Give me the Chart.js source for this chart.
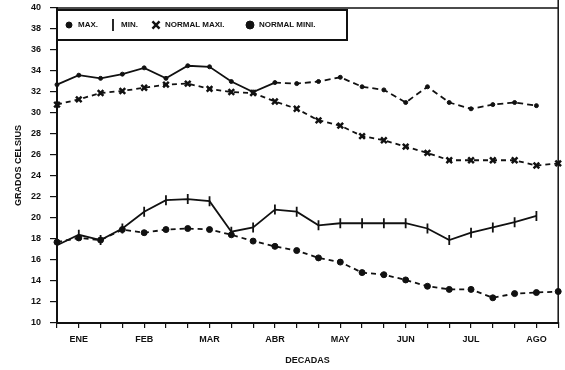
<!DOCTYPE html>
<html>
<head>
<meta charset="utf-8">
<script src="https://cdn.jsdelivr.net/npm/chart.js@4.4.1/dist/chart.umd.min.js"></script>
<style>
  html, body { margin: 0; padding: 0; background: #fff; }
</style>
</head>
<body>
<canvas id="chart" width="565" height="370"></canvas>
<script>
// month names, one label per 3 decades (shown on the middle one)
const months = ['ENE', 'FEB', 'MAR', 'ABR', 'MAY', 'JUN', 'JUL', 'AGO'];

// temperatures per decade
const tempMax   = [32.7, 33.6, 33.3, 33.7, 34.3, 33.3, 34.5, 34.4, 33.0, 32.0, 32.9, 32.8,
                   33.0, 33.4, 32.5, 32.2, 31.0, 32.5, 31.0, 30.4, 30.8, 31.0, 30.7];
const tempMin   = [17.4, 18.4, 17.9, 19.0, 20.6, 21.7, 21.8, 21.6, 18.7, 19.1, 20.8, 20.6,
                   19.3, 19.5, 19.5, 19.5, 19.5, 19.0, 17.9, 18.6, 19.1, 19.6, 20.2];
const normalMax = [30.8, 31.3, 31.9, 32.1, 32.4, 32.7, 32.8, 32.3, 32.0, 31.9, 31.1, 30.4,
                   29.3, 28.8, 27.8, 27.4, 26.8, 26.2, 25.5, 25.5, 25.5, 25.5, 25.0, 25.2];
const normalMin = [17.7, 18.1, 17.9, 18.9, 18.6, 18.9, 19.0, 18.9, 18.4, 17.8, 17.3, 16.9,
                   16.2, 15.8, 14.8, 14.6, 14.1, 13.5, 13.2, 13.2, 12.4, 12.8, 12.9, 13.0];

const decades = [];
months.forEach(m => { for (let d = 1; d <= 3; d++) decades.push(m + ' ' + d); });

const FONT = 'Liberation Sans, Arial, sans-serif';
const INK = '#111';

// frame (top + right) and the boxed legend inside the plot
const framePlugin = {
  id: 'frame',
  afterDraw(chart) {
    const { ctx, chartArea: a } = chart;
    ctx.save();
    ctx.strokeStyle = INK;
    ctx.lineWidth = 1.5;
    ctx.beginPath();
    ctx.moveTo(a.left, a.top);
    ctx.lineTo(a.right, a.top);
    ctx.moveTo(a.right, 0);
    ctx.lineTo(a.right, a.bottom);
    ctx.stroke();

    // legend box
    const bx = a.left, by = a.top + 2, bw = 290, bh = 30;
    ctx.fillStyle = '#fff';
    ctx.fillRect(bx, by, bw, bh);
    ctx.lineWidth = 2;
    ctx.strokeRect(bx, by, bw, bh);

    const cy = by + bh / 2;
    const items = [[69, 78], [113, 121], [156, 165], [250, 259]];
    ctx.font = 'bold 8px ' + FONT;
    ctx.textBaseline = 'middle';
    chart.data.datasets.forEach((ds, i) => {
      const [mx, tx] = items[i];
      ctx.fillStyle = INK;
      ctx.strokeStyle = INK;
      ctx.lineWidth = ds.pointBorderWidth || 1.5;
      Chart.helpers.drawPoint(ctx, {
        pointStyle: ds.pointStyle,
        rotation: ds.pointRotation || 0,
        radius: ds.pointRadius + 1,
        borderWidth: ds.pointBorderWidth || 1.5
      }, mx, cy);
      ctx.fillStyle = INK;
      ctx.fillText(ds.label, tx, cy);
    });
    ctx.restore();
  }
};

new Chart(document.getElementById('chart'), {
  type: 'line',
  data: {
    labels: decades,
    datasets: [
      {
        label: 'MAX.',
        data: tempMax,
        borderColor: INK, backgroundColor: INK, borderWidth: 1.8,
        pointStyle: 'circle', pointRadius: 2, pointBorderWidth: 1,
        segment: { borderDash: c => (c.p0DataIndex >= 10 ? [6, 4] : undefined) }
      },
      {
        label: 'MIN.',
        data: tempMin,
        borderColor: INK, backgroundColor: INK, borderWidth: 1.8,
        pointStyle: 'line', pointRotation: 90, pointRadius: 5, pointBorderWidth: 1.8
      },
      {
        label: 'NORMAL MAXI.',
        data: normalMax,
        borderColor: INK, backgroundColor: INK, borderWidth: 1.8, borderDash: [5, 4],
        pointStyle: 'crossRot', pointRadius: 4, pointBorderWidth: 2.5
      },
      {
        label: 'NORMAL MINI.',
        data: normalMin,
        borderColor: INK, backgroundColor: INK, borderWidth: 1.8, borderDash: [5, 4],
        pointStyle: 'circle', pointRadius: 3, pointBorderWidth: 1
      }
    ]
  },
  options: {
    responsive: false,
    animation: false,
    layout: { padding: { top: 8, right: 2, left: 0, bottom: 0 } },
    plugins: {
      legend: { display: false },
      tooltip: { enabled: false }
    },
    elements: { line: { tension: 0 } },
    scales: {
      x: {
        type: 'category',
        offset: false,
        grid: { drawOnChartArea: false, tickLength: 5, color: INK, lineWidth: 1.2 },
        border: { color: INK, width: 2 },
        ticks: {
          autoSkip: false, maxRotation: 0, minRotation: 0, padding: 6, color: INK,
          font: { family: FONT, size: 9, weight: 'bold' },
          callback: (v, i) => (i % 3 === 1 ? months[(i - 1) / 3] : '')
        },
        title: {
          display: true, text: 'DECADAS', color: INK, padding: { top: 3 },
          font: { family: FONT, size: 9, weight: 'bold' }
        },
        afterFit: s => { s.height = 47; s.paddingRight = 0; }
      },
      y: {
        min: 10, max: 40,
        grid: { drawOnChartArea: false, tickLength: 7, color: INK, lineWidth: 1.2 },
        border: { color: INK, width: 2 },
        ticks: {
          stepSize: 2, padding: 9, color: INK,
          font: { family: FONT, size: 9, weight: 'bold' }
        },
        title: {
          display: true, text: 'GRADOS CELSIUS', color: INK, padding: { top: 13, bottom: 0 },
          font: { family: FONT, size: 9, weight: 'bold' }
        },
        afterFit: s => { s.width = 57; s.paddingTop = 0; s.paddingBottom = 0; }
      }
    }
  },
  plugins: [framePlugin]
});
</script>
</body>
</html>
